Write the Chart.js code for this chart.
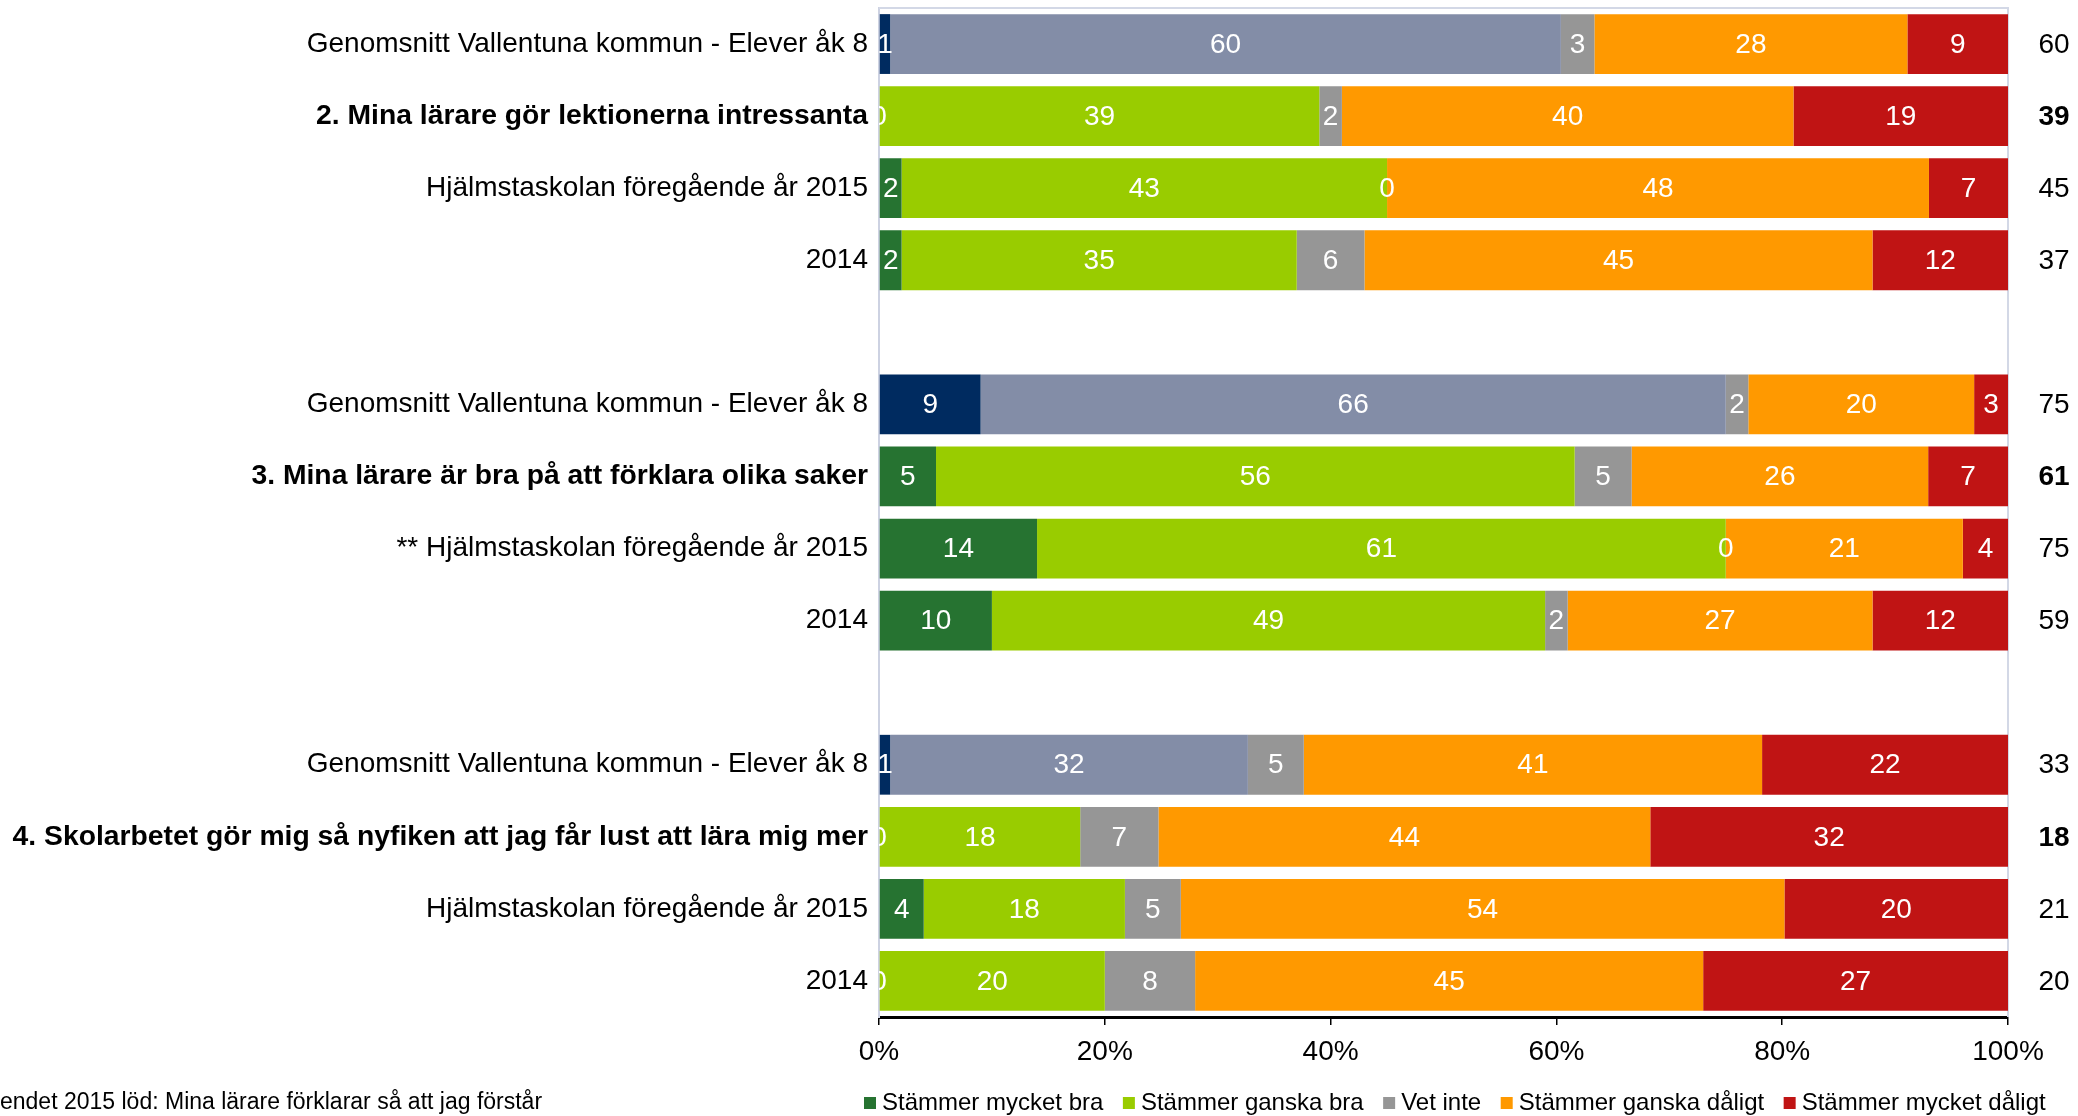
<!DOCTYPE html>
<html>
<head>
<meta charset="utf-8">
<title>Elevenkät åk 8</title>
<script src="https://cdn.jsdelivr.net/npm/chart.js@4/dist/chart.umd.min.js"></script>
<style>
  html, body { margin: 0; padding: 0; background: #fff; overflow: hidden; }
  #wrap { width: 2078px; height: 1116px; position: relative; }
</style>
</head>
<body>
<div id="wrap"><canvas id="myChart"></canvas></div>
<script>
// Rows of the chart, top to bottom ('' = empty gap between questions)
var categories = [
    'Genomsnitt Vallentuna kommun - Elever åk 8',
    '2. Mina lärare gör lektionerna intressanta',
    'Hjälmstaskolan föregående år 2015',
    '2014',
    '',
    'Genomsnitt Vallentuna kommun - Elever åk 8',
    '3. Mina lärare är bra på att förklara olika saker',
    '** Hjälmstaskolan föregående år 2015',
    '2014',
    '',
    'Genomsnitt Vallentuna kommun - Elever åk 8',
    '4. Skolarbetet gör mig så nyfiken att jag får lust att lära mig mer',
    'Hjälmstaskolan föregående år 2015',
    '2014'
];

// Answers in percent
var mycketBra    = [1, 0, 2, 2, null, 9, 5, 14, 10, null, 1, 0, 4, 0];
var ganskaBra    = [60, 39, 43, 35, null, 66, 56, 61, 49, null, 32, 18, 18, 20];
var vetInte      = [3, 2, 0, 6, null, 2, 5, 0, 2, null, 5, 7, 5, 8];
var ganskaDaligt = [28, 40, 48, 45, null, 20, 26, 21, 27, null, 41, 44, 54, 45];
var mycketDaligt = [9, 19, 7, 12, null, 3, 7, 4, 12, null, 22, 32, 20, 27];

// Value column to the right of the bars
var rightValues = [60, 39, 45, 37, null, 75, 61, 75, 59, null, 33, 18, 21, 20];

var seriesNames = ['Stämmer mycket bra', 'Stämmer ganska bra', 'Vet inte', 'Stämmer ganska dåligt', 'Stämmer mycket dåligt'];
var questionRows = [1, 6, 11];
var kommunRows = [0, 5, 10];
var noteText = 'endet 2015 löd: Mina lärare förklarar så att jag förstår';

var FONT = "'Liberation Sans', Arial, sans-serif";
var colors = ['#267331', '#99cc00', '#969696', '#ff9900', '#c01414'];
var kommunColors = ['#002b60', '#838da7'];

var allSeries = [mycketBra, ganskaBra, vetInte, ganskaDaligt, mycketDaligt];

// each row is shown as a 100% stacked bar
function rowSum(i) {
    var s = 0;
    allSeries.forEach(function (arr) { s += arr[i] || 0; });
    return s;
}

var datasets = allSeries.map(function (arr, k) {
    return {
        label: seriesNames[k],
        raw: arr,
        data: arr.map(function (v, i) { return v === null ? null : v / rowSum(i) * 100; }),
        backgroundColor: arr.map(function (v, i) {
            if (k < 2 && kommunRows.indexOf(i) >= 0) return kommunColors[k];
            return colors[k];
        }),
        borderWidth: 0,
        barPercentage: 0.83,
        categoryPercentage: 1
    };
});

var extras = {
    id: 'extras',
    beforeDatasetsDraw: function (chart) {
        var c = chart.ctx, a = chart.chartArea;
        c.save();
        c.strokeStyle = '#d3d8e6';
        c.lineWidth = 2;
        c.beginPath();
        c.moveTo(a.left, a.top);
        c.lineTo(a.right, a.top);
        c.lineTo(a.right, a.bottom);
        c.stroke();
        c.restore();
    },
    afterDatasetsDraw: function (chart) {
        var c = chart.ctx, a = chart.chartArea;
        c.save();
        c.beginPath();
        c.rect(a.left, a.top, a.right - a.left, a.bottom - a.top);
        c.clip();
        c.fillStyle = '#fff';
        c.font = '28px ' + FONT;
        c.textAlign = 'center';
        c.textBaseline = 'middle';
        chart.data.datasets.forEach(function (ds, k) {
            chart.getDatasetMeta(k).data.forEach(function (el, i) {
                if (ds.raw[i] === null) return;
                var p = el.getProps(['x', 'y', 'base'], true);
                c.fillText(String(ds.raw[i]), (p.x + p.base) / 2, p.y + 1);
            });
        });
        c.restore();
    },
    afterDraw: function (chart) {
        var c = chart.ctx, y = chart.scales.y;
        c.save();
        // value column
        c.fillStyle = '#000';
        c.textAlign = 'center';
        c.textBaseline = 'middle';
        rightValues.forEach(function (v, i) {
            if (v === null) return;
            c.font = (questionRows.indexOf(i) >= 0 ? 'bold ' : '') + '28px ' + FONT;
            c.fillText(String(v), 2054, y.getPixelForValue(i) + 1);
        });
        // footnote
        c.font = '23px ' + FONT;
        c.textAlign = 'left';
        c.fillText(noteText, 0, 1103);
        // legend
        c.font = '24px ' + FONT;
        var x = 864;
        seriesNames.forEach(function (name, k) {
            c.fillStyle = colors[k];
            c.fillRect(x, 1097, 12, 12);
            c.fillStyle = '#000';
            c.fillText(name, x + 18, 1103);
            x += 18 + c.measureText(name).width + 19.5;
        });
        c.restore();
    }
};

var ctx = document.getElementById('myChart');
var myChart = new Chart(ctx, {
    type: 'bar',
    data: {
        labels: categories,
        datasets: datasets
    },
    options: {
        indexAxis: 'y',
        responsive: true,
        maintainAspectRatio: false,
        animation: false,
        layout: { padding: { top: 8, right: 70, left: 0, bottom: 0 } },
        plugins: {
            legend: { display: false },
            tooltip: { enabled: false }
        },
        scales: {
            x: {
                stacked: true,
                min: 0,
                max: 100,
                ticks: {
                    stepSize: 20,
                    color: '#000',
                    padding: 10,
                    font: { size: 28, family: FONT },
                    callback: function (v) { return v + '%'; }
                },
                grid: { drawOnChartArea: false, drawTicks: true, tickLength: 8, color: '#000', lineWidth: 1.5 },
                border: { color: '#000', width: 3 },
                afterFit: function (s) { s.height = 99; }
            },
            y: {
                stacked: true,
                grid: { display: false, drawTicks: false },
                border: { color: '#cdd2e2', width: 2 },
                ticks: {
                    autoSkip: false,
                    color: '#000',
                    padding: 11,
                    font: function (c) {
                        var bold = questionRows.indexOf(c.index) >= 0;
                        return { size: bold ? 28.3 : 28, family: FONT, weight: bold ? 'bold' : 'normal' };
                    }
                },
                afterFit: function (s) {
                    s.width = 879;
                    s.paddingTop = 0;
                    s.paddingBottom = 0;
                }
            }
        }
    },
    plugins: [extras]
});
</script>
</body>
</html>
